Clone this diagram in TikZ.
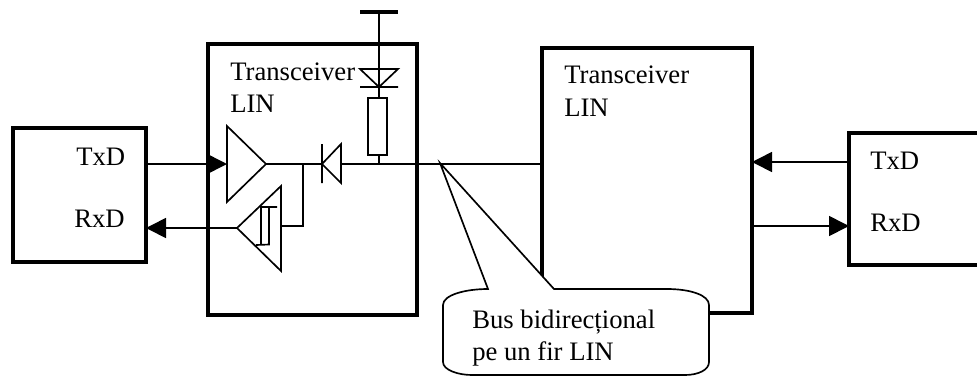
\documentclass[tikz,border=0pt]{standalone}
\usepackage{fontspec}
\setmainfont{Liberation Serif}
\usetikzlibrary{arrows.meta}
\tikzset{
  bloc/.style={draw,line width=2.6pt,inner sep=0pt,outer sep=0pt},
  fil/.style={line width=1.25pt},
  sageata/.style={fil,-{Triangle[length=15pt,width=15pt]}},
  eticheta/.style={anchor=base west,inner sep=0pt,font=\fontsize{20}{24}\selectfont}
}
\begin{document}
\begin{tikzpicture}[x=.75pt,y=-.75pt]
  \useasboundingbox(0,0)rectangle(977,376);
  \node[bloc,minimum width=99.75pt,minimum height=100.5pt](nodst) at(79.5,195){};
  \node[bloc,minimum width=156.75pt,minimum height=203.25pt](trst) at(312.5,179.5){};
  \node[bloc,minimum width=157.5pt,minimum height=198.75pt](trdr) at(647,180.5){};
  \node[bloc,minimum width=105.75pt,minimum height=99pt](noddr) at(919.5,199){};
  \foreach \n/\x/\y in{%
    txst/146/164, rxst/146/228, ampa/227/164, ampaout/266/164, ampb/237/228, ampbin/281/226,
    ram/303/164, diodc/322/164, diodb/341/164, nod/379/164, bus/542/164,
    txdr/849/162, txtr/752/162, rxdr/849/226, rxtr/752/226,
    sus/379/12, catod/379/87, rsus/379/98, rjos/379/155, varf/440/163}{%
    \coordinate(\n) at(\x,\y);
  }
  % semnale TxD, RxD
  \draw[sageata](txst)--(ampa);
  \draw[sageata](ampb)--(rxst);
  \draw[sageata](txdr)--(txtr);
  \draw[sageata](rxtr)--(rxdr);
  % amplificatoare
  \draw[fil](227,126)--(ampaout)--(227,202)--cycle;
  \draw[fil](281,186)--(ampb)--(281,271)--cycle;
  \draw[fil](256,245)--(269,244.5)--(269,207)
            (261,244.5)--(261,207)--(277,207);
  % linia de bus
  \draw[fil](ampaout)--(diodc)(diodb)--(bus);
  \draw[fil](ram)|-(ampbin);
  \draw[fil](322,144)--(322,183)
            (341,144)--(diodc)--(341,183)--cycle;
  % alimentare
  \draw[line width=3pt](360,12)--(398,12);
  \draw[fil](sus)--(rsus)(rjos)--(nod);
  \draw[fil](360,69)--(398,69)--(catod)--cycle
            (360,87)--(398,87);
  \draw[fil](368,98)rectangle(387,155);
  % eticheta bus
  \draw[fil,fill=white](varf)--(488,289)
    ..controls(465,289)and(443,295)..(443,305)--(443,362)
    ..controls(443,370)and(458,375)..(472,375)--(685,375)
    ..controls(698,375)and(709,370)..(709,362)--(709,305)
    ..controls(709,295)and(690,289)..(667,289)--(554,289)--cycle;
  \foreach \n/\x/\y/\t in{%
    a/76/165/TxD, b/74/227/RxD, c/870/169/TxD, d/870/231/RxD,
    e/230/80/Transceiver, f/230/112/LIN, g/564/83/Transceiver, h/564/116/LIN,
    i/472/328/Bus bidirecțional, j/472/360/pe un fir LIN}{%
    \node[eticheta](t\n) at(\x,\y){\t};
  }
\end{tikzpicture}
\end{document}
